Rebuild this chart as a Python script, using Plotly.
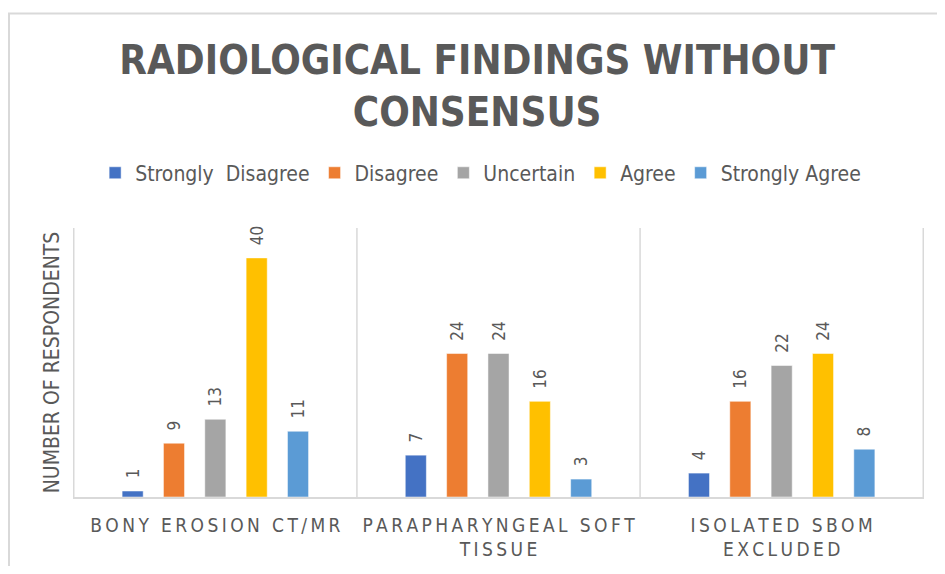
import plotly.graph_objects as go

categories = [
    ["BONY EROSION CT/MR"],
    ["PARAPHARYNGEAL SOFT", "TISSUE"],
    ["ISOLATED SBOM", "EXCLUDED"],
]
series_names = ["Strongly  Disagree", "Disagree", "Uncertain", "Agree", "Strongly Agree"]
strongly_disagree = [1, 7, 4]
disagree = [9, 24, 16]
uncertain = [13, 24, 22]
agree = [40, 16, 24]
strongly_agree = [11, 3, 8]

COLORS = ["#4472C4", "#ED7D31", "#A5A5A5", "#FFC000", "#5B9BD5"]
TEXT = "#595959"
NARROW = "Liberation Sans Narrow, DejaVu Sans Condensed, Arial Narrow, sans-serif"


def spaced(line):
    # excel-style letter spacing on the category labels
    return "\u2009".join(line)


x_labels = ["<br>".join(spaced(l) for l in lines) for lines in categories]

fig = go.Figure()
for name, vals, color in zip(
    series_names,
    [strongly_disagree, disagree, uncertain, agree, strongly_agree],
    COLORS,
):
    fig.add_trace(
        go.Bar(
            x=x_labels,
            y=vals,
            name=name,
            marker={"color": color},
            # leading nbsp pushes the rotated label a bit further off the bar
            texttemplate="\u00a0\u00a0%{y}",
            textposition="outside",
            textangle=-90,
            constraintext="none",
            cliponaxis=False,
            textfont={"family": NARROW, "size": 17, "color": TEXT},
        )
    )

# category separators and the chart frame
shapes = []
for xs in [-0.5, 0.5, 1.5, 2.5]:
    shapes.append(
        dict(type="line", xref="x", yref="paper", x0=xs, x1=xs, y0=0, y1=1,
             line={"color": "#d9d9d9", "width": 1.5})
    )
shapes.append(
    dict(type="rect", xref="paper", yref="paper", x0=-0.0752, x1=1.05, y0=-0.5, y1=1.797,
         line={"color": "#d9d9d9", "width": 2}, layer="below")
)

# page body adds an 8px margin, so the figure is 16px smaller than the window
fig.update_layout(
    width=929,
    height=558,
    template="plotly_white",
    plot_bgcolor="white",
    paper_bgcolor="white",
    margin={"l": 65, "r": 13, "t": 220, "b": 69, "autoexpand": False},
    title={
        "text": "RADIOLOGICAL FINDINGS WITHOUT<br>CONSENSUS",
        "font": {"family": NARROW, "size": 40, "color": TEXT, "weight": "bold"},
        "x": 0.505,
        "xanchor": "center",
        "y": 0.8817,
        "yanchor": "top",
    },
    barmode="group",
    bargap=0.27,
    bargroupgap=0.49,
    showlegend=True,
    legend={
        "orientation": "h",
        "x": 0.479,
        "xanchor": "center",
        "y": 1.204,
        "yanchor": "middle",
        "font": {"family": NARROW, "size": 21, "color": TEXT},
        "itemwidth": 30,
    },
    shapes=shapes,
)
fig.update_xaxes(
    automargin=False,
    showgrid=False,
    showline=True,
    linecolor="#d9d9d9",
    linewidth=1.5,
    ticks="",
    ticklabelstandoff=10,
    tickfont={"family": NARROW, "size": 19, "color": TEXT},
    tickangle=0,
)
fig.update_yaxes(
    automargin=False,
    range=[0, 45],
    showgrid=False,
    showticklabels=False,
    zeroline=False,
    showline=False,
    title={
        "text": "NUMBER OF RESPONDENTS",
        "font": {"family": NARROW, "size": 21, "color": TEXT},
        "standoff": 6,
    },
)

fig.write_html("out.html")
